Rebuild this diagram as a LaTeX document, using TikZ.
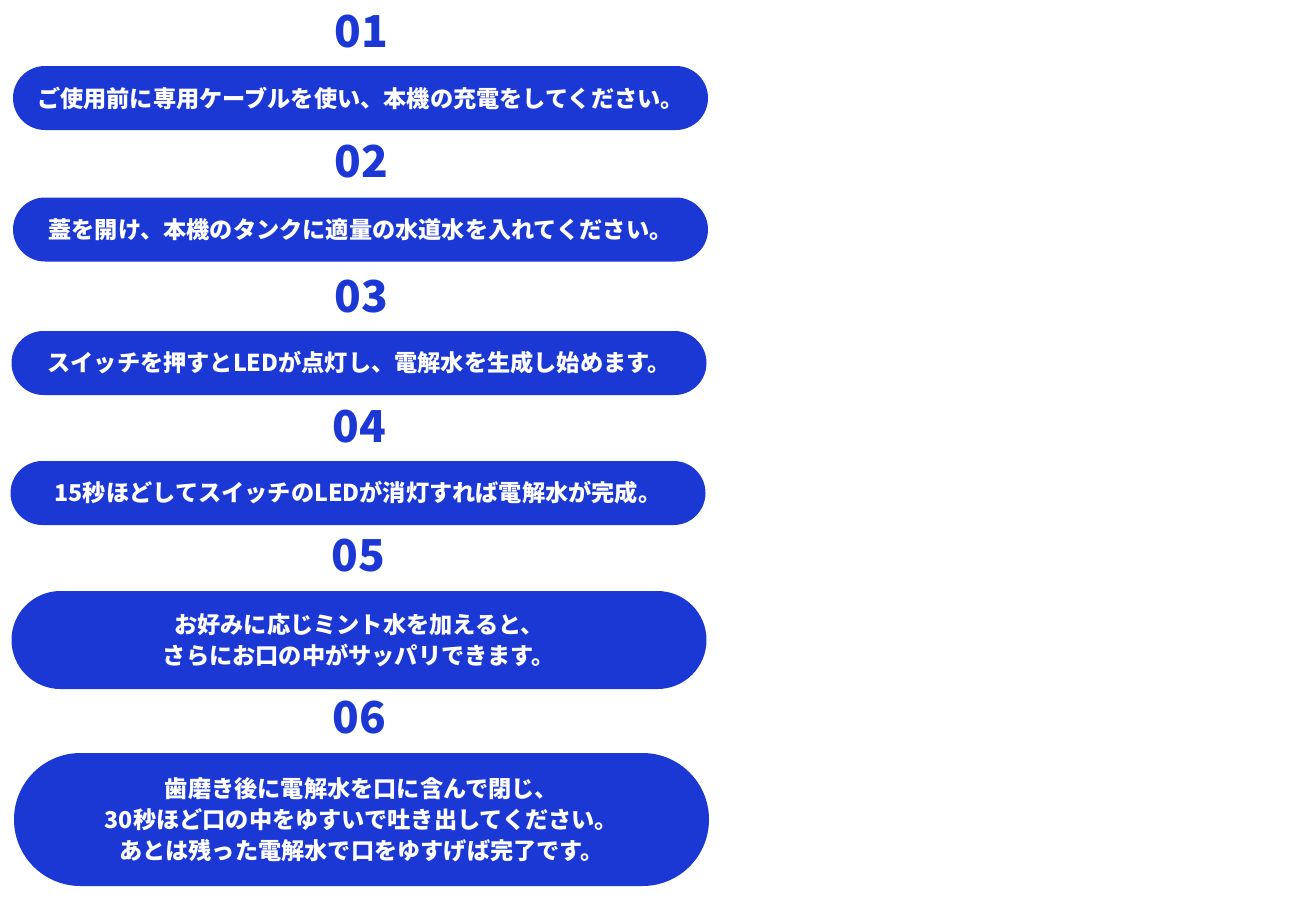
\documentclass[tikz,border=0pt]{standalone}
\usepackage{fontspec}
\setmainfont{Noto Sans CJK JP}
\usepackage{xcolor}
\usepackage{tikz}
\usetikzlibrary{positioning,shapes.misc}
\definecolor{stepblue}{HTML}{1B38D4}
\tikzset{
    every picture/.style={line cap=round,line join=round},
    stepnum/.style={text=stepblue,inner sep=0pt,
      font=\fontsize{44}{44}\selectfont\bfseries},
    steppill/.style={rounded rectangle,fill=stepblue,text=white,
      minimum width=695pt,minimum height=64pt,inner sep=0pt,
      font=\fontsize{23.2}{31}\selectfont\bfseries,align=center}
}
\begin{document}
\begin{tikzpicture}[x=1pt,y=-1pt]
  \useasboundingbox (0,0) rectangle (1300,900);
  \node[stepnum] (n1) at (361,32) {01};
  \node[steppill] (s1) at (360.5,98) {ご使用前に専用ケーブルを使い、本機の充電をしてください。};
  \node[stepnum] (n2) at (361,162) {02};
  \node[steppill] (s2) at (360.5,229.5) {蓋を開け、本機のタンクに適量の水道水を入れてください。};
  \node[stepnum] (n3) at (361,297) {03};
  \node[steppill] (s3) at (359,363) {スイッチを押すとLEDが点灯し、電解水を生成し始めます。};
  \node[stepnum] (n4) at (359,427) {04};
  \node[steppill] (s4) at (358,493) {15秒ほどしてスイッチのLEDが消灯すれば電解水が完成。};
  \node[stepnum] (n5) at (358,556) {05};
  \node[steppill,minimum height=98pt] (s5) at (359,640)
    {お好みに応じミント水を加えると、\\さらにお口の中がサッパリできます。};
  \node[stepnum] (n6) at (359,718) {06};
  \node[steppill,minimum height=133pt] (s6) at (361.5,819.5)
    {歯磨き後に電解水を口に含んで閉じ、\\30秒ほど口の中をゆすいで吐き出してください。\\あとは残った電解水で口をゆすげば完了です。};
\end{tikzpicture}
\end{document}
